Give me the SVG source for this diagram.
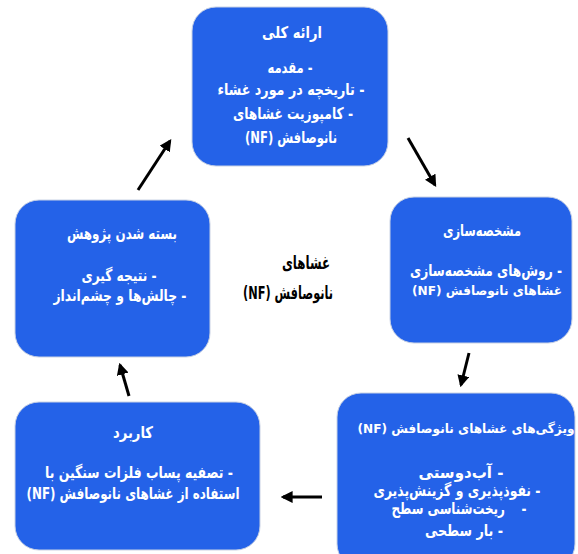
<svg xmlns="http://www.w3.org/2000/svg" width="578" height="554" viewBox="0 0 578 554">
<style>
.box{fill:#2462E8;stroke:#c9d2e4;stroke-width:1}
.t{font-family:"DejaVu Sans",sans-serif;font-weight:bold;fill:#fff;text-anchor:middle;direction:rtl;font-size:16px;white-space:pre}
.c{font-family:"DejaVu Sans",sans-serif;font-weight:bold;fill:#000;text-anchor:middle;direction:rtl;font-size:18px}
.a{stroke:#000;stroke-width:3;fill:none;marker-end:url(#ah)}
</style>
<defs>
<marker id="ah" viewBox="0 0 10 10" refX="8" refY="5" markerWidth="4" markerHeight="4" orient="auto" markerUnits="strokeWidth">
<path d="M0,0 L10,5 L0,10 Z" fill="#000"/>
</marker>
</defs>
<rect width="578" height="554" fill="#fff"/>
<g id="top">
<rect class="box" x="192" y="7" width="196" height="159" rx="24"/>
<text class="t" x="292" y="38" textLength="60" lengthAdjust="spacingAndGlyphs">ارائه کلی</text>
<text class="t" x="290" y="73" textLength="45" lengthAdjust="spacingAndGlyphs">- مقدمه</text>
<text class="t" x="291" y="95" textLength="147" lengthAdjust="spacingAndGlyphs">- تاریخچه در مورد غشاء</text>
<text class="t" x="293" y="119" textLength="120" lengthAdjust="spacingAndGlyphs">- کامپوزیت غشاهای</text>
<text class="t" x="291" y="143" textLength="92" lengthAdjust="spacingAndGlyphs">نانوصافش (NF)</text>
</g>
<g id="right">
<rect class="box" x="390" y="197" width="182" height="146" rx="24"/>
<text class="t" x="482" y="236" textLength="78" lengthAdjust="spacingAndGlyphs">مشخصه‌سازی</text>
<text class="t" x="486" y="276" textLength="152" lengthAdjust="spacingAndGlyphs">- روش‌های مشخصه‌سازی</text>
<text class="t" x="487" y="295" style="font-size:13px" textLength="150" lengthAdjust="spacingAndGlyphs">غشاهای نانوصافش (NF)</text>
</g>
<g id="bottomright">
<rect class="box" x="337" y="393" width="238" height="175" rx="24"/>
<text class="t" x="466" y="433" style="font-size:13px" textLength="217" lengthAdjust="spacingAndGlyphs">ویژگی‌های غشاهای نانوصافش (NF)</text>
<text class="t" x="461" y="478" textLength="85" lengthAdjust="spacingAndGlyphs">- آب‌دوستی</text>
<text class="t" x="457" y="496" textLength="167" lengthAdjust="spacingAndGlyphs">- نفوذپذیری و گزینش‌پذیری</text>
<text class="t" x="459" y="514" textLength="135" lengthAdjust="spacingAndGlyphs">-    ریخت‌شناسی سطح</text>
<text class="t" x="464" y="536" textLength="78" lengthAdjust="spacingAndGlyphs">- بار سطحی</text>
</g>
<g id="bottomleft">
<rect class="box" x="15" y="402" width="245" height="148" rx="24"/>
<text class="t" x="133" y="438" textLength="40" lengthAdjust="spacingAndGlyphs">کاربرد</text>
<text class="t" x="139" y="478" textLength="188" lengthAdjust="spacingAndGlyphs">- تصفیه پساب فلزات سنگین با</text>
<text class="t" x="133" y="499" textLength="213" lengthAdjust="spacingAndGlyphs">استفاده از غشاهای نانوصافش (NF)</text>
</g>
<g id="left">
<rect class="box" x="15" y="200" width="195" height="157" rx="24"/>
<text class="t" x="122" y="239" textLength="110" lengthAdjust="spacingAndGlyphs">بسته شدن پژوهش</text>
<text class="t" x="119" y="281" textLength="75" lengthAdjust="spacingAndGlyphs">- نتیجه گیری</text>
<text class="t" x="120" y="301" textLength="133" lengthAdjust="spacingAndGlyphs">- چالش‌ها و چشم‌انداز</text>
</g>
<g id="center">
<text class="c" x="306" y="269" textLength="48" lengthAdjust="spacingAndGlyphs">غشاهای</text>
<text class="c" x="288" y="299" textLength="90" lengthAdjust="spacingAndGlyphs">نانوصافش (NF)</text>
</g>
<g id="connectors">
<line class="a" x1="138" y1="190" x2="170" y2="141"/>
<line class="a" x1="408" y1="138" x2="435" y2="185"/>
<line class="a" x1="469" y1="353" x2="461" y2="385"/>
<line class="a" x1="322" y1="497" x2="283" y2="497"/>
<line class="a" x1="129" y1="396" x2="120" y2="365"/>
</g>
</svg>
